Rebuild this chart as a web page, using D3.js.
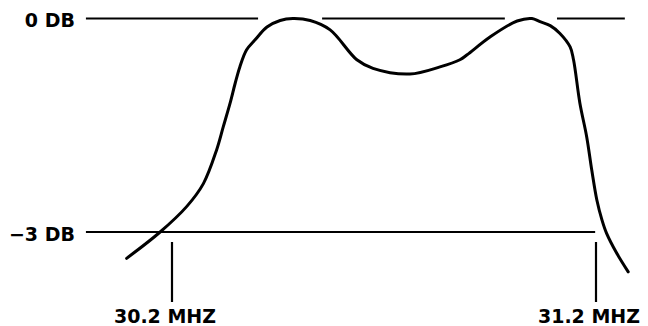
<!DOCTYPE html>
<html>
<head>
<meta charset="utf-8">
<script src="https://cdn.jsdelivr.net/npm/d3@7"></script>
<style>
  html, body { margin: 0; padding: 0; background: #fff; }
  svg { display: block; }
  text { font-family: "DejaVu Sans", sans-serif; font-weight: bold; fill: #000; }
</style>
</head>
<body>
<svg id="chart" width="648" height="326"></svg>
<script>
// Response curve (frequency in MHz, gain in dB)
const freq = [30.093, 30.172, 30.235, 30.274, 30.305, 30.321, 30.337, 30.349, 30.360, 30.376, 30.396, 30.424, 30.455, 30.485, 30.526, 30.573, 30.636, 30.674, 30.761, 30.832, 30.879, 30.896, 30.950, 31.014, 31.049, 31.068, 31.092, 31.115, 31.139, 31.147, 31.162, 31.178, 31.190, 31.202, 31.214, 31.225, 31.249, 31.276];
const gain = [-3.37, -3.00, -2.64, -2.32, -1.85, -1.52, -1.19, -0.91, -0.68, -0.44, -0.30, -0.12, -0.028, 0.0, -0.028, -0.16, -0.58, -0.70, -0.78, -0.68, -0.58, -0.51, -0.26, -0.035, 0.0, -0.045, -0.10, -0.21, -0.40, -0.58, -1.19, -1.66, -2.13, -2.55, -2.83, -3.02, -3.30, -3.56];

// Reference levels and their drawn extents (MHz)
const levelValues = [0, -3];
const levelLabels = ["0 DB", "\u22123 DB"];
const levelSegments = [
  [[29.997, 30.403], [30.554, 30.985], [31.108, 31.268]],
  [[29.997, 31.198]]
];

// Frequency markers
const markerValues = [30.2, 31.2];
const markerLabels = ["30.2 MHZ", "31.2 MHZ"];

const svg = d3.select("#chart");

const x = d3.scaleLinear().domain([30.2, 31.2]).range([172, 596]);
const y = d3.scaleLinear().domain([0, -3]).range([18.5, 232]);

// Reference level lines
levelValues.forEach((v, i) => {
  svg.selectAll(null)
    .data(levelSegments[i])
    .enter().append("line")
    .attr("x1", d => x(d[0]))
    .attr("x2", d => x(d[1]))
    .attr("y1", y(v))
    .attr("y2", y(v))
    .attr("stroke", "#000")
    .attr("stroke-width", 2.2);
  svg.append("text")
    .attr("x", x(levelSegments[i][0][0]) - 11)
    .attr("y", y(v) + 8.5)
    .attr("text-anchor", "end")
    .attr("font-size", 19)
    .text(levelLabels[i]);
});

// Frequency markers
svg.selectAll(".marker")
  .data(markerValues)
  .enter().append("line")
  .attr("class", "marker")
  .attr("x1", d => x(d))
  .attr("x2", d => x(d))
  .attr("y1", y(-3) + 10)
  .attr("y2", y(-3) + 70)
  .attr("stroke", "#000")
  .attr("stroke-width", 2.2);

svg.selectAll(".mlabel")
  .data(markerValues)
  .enter().append("text")
  .attr("class", "mlabel")
  .attr("x", d => x(d) - 7)
  .attr("y", 323)
  .attr("text-anchor", "middle")
  .attr("font-size", 19)
  .text((d, i) => markerLabels[i]);

// Response curve
const pts = freq.map((f, i) => [f, gain[i]]);
const line = d3.line()
  .x(d => x(d[0]))
  .y(d => y(d[1]))
  .curve(d3.curveCatmullRom.alpha(0.5));

svg.append("path")
  .datum(pts)
  .attr("d", line)
  .attr("fill", "none")
  .attr("stroke", "#000")
  .attr("stroke-width", 3)
  .attr("stroke-linecap", "round");
</script>
</body>
</html>
